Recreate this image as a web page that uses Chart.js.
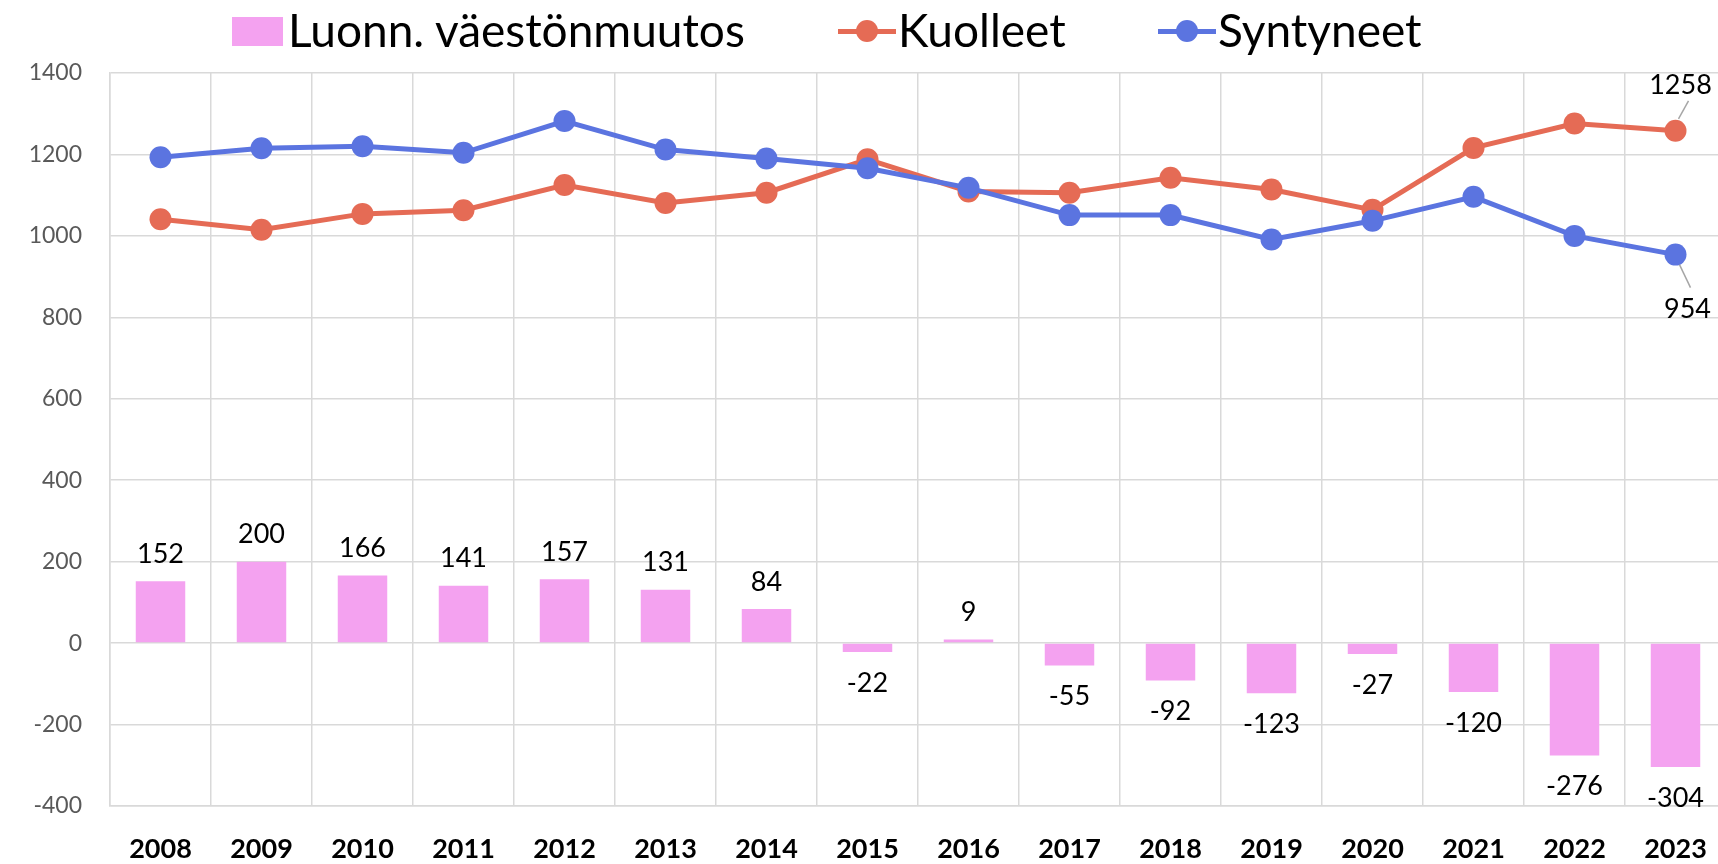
<!DOCTYPE html>
<html>
<head>
<meta charset="utf-8">
<script src="https://cdn.jsdelivr.net/npm/chart.js@4"></script>
<style>
    html, body { margin: 0; padding: 0; background: #fff; overflow: hidden; }
    .wrap { position: relative; width: 1737px; height: 864px; }
    .legend { position: absolute; top: 0; left: 0; width: 1718px; height: 62px; font-family: Lato, sans-serif; font-size: 46px; color: #000; }
    .item { position: absolute; top: 3px; line-height: 54px; white-space: nowrap; }
    .sq { position: absolute; left: 232px; top: 17px; width: 51px; height: 29px; background: #F4A2F0; }
    .ln { position: absolute; top: 29px; width: 58px; height: 5px; }
    .dot { position: absolute; top: 20px; width: 22px; height: 22px; border-radius: 50%; }
</style>
</head>
<body>
<div class="wrap">
    <canvas id="chart" width="1737" height="864"></canvas>
    <div class="legend">
        <div class="sq"></div>
        <div class="item" style="left:288px">Luonn. väestönmuutos</div>
        <div class="ln" style="left:838px;background:#E56B55"></div>
        <div class="dot" style="left:856px;background:#E56B55"></div>
        <div class="item" style="left:898px">Kuolleet</div>
        <div class="ln" style="left:1158px;background:#5B74E0"></div>
        <div class="dot" style="left:1176px;background:#5B74E0"></div>
        <div class="item" style="left:1218px">Syntyneet</div>
    </div>
</div>
<script>
const years = ['2008', '2009', '2010', '2011', '2012', '2013', '2014', '2015', '2016', '2017', '2018', '2019', '2020', '2021', '2022', '2023'];
const muutos = [152, 200, 166, 141, 157, 131, 84, -22, 9, -55, -92, -123, -27, -120, -276, -304];
const kuolleet = [1041, 1015, 1054, 1063, 1125, 1081, 1106, 1188, 1109, 1106, 1143, 1114, 1064, 1216, 1276, 1258];
const syntyneet = [1193, 1215, 1220, 1204, 1282, 1212, 1190, 1166, 1118, 1051, 1051, 991, 1037, 1096, 1000, 954];

const pink = '#F4A2F0';
const red = '#E56B55';
const blue = '#5B74E0';
const gridColor = '#d9d9d9';

// labels for bars and for the last points of the lines
const labelPlugin = {
    id: 'labels',
    afterDatasetsDraw(chart) {
        const ctx = chart.ctx;
        ctx.save();
        ctx.font = '27px Lato, sans-serif';
        ctx.fillStyle = '#000';
        ctx.textAlign = 'center';
        ctx.textBaseline = 'middle';
        const bars = chart.getDatasetMeta(0).data;
        bars.forEach((b, i) => {
            const v = muutos[i];
            const y = v >= 0 ? b.y - 27 : b.y + 31;
            ctx.fillText(String(v), b.x, y);
        });

        ctx.strokeStyle = '#a6a6a6';
        ctx.lineWidth = 1.5;
        const last = years.length - 1;
        const pk = chart.getDatasetMeta(1).data[last];
        ctx.beginPath();
        ctx.moveTo(pk.x + 3, pk.y - 12);
        ctx.lineTo(pk.x + 13, pk.y - 30);
        ctx.stroke();
        ctx.fillText(String(kuolleet[last]), pk.x + 5, pk.y - 46);

        const ps = chart.getDatasetMeta(2).data[last];
        ctx.beginPath();
        ctx.moveTo(ps.x + 4, ps.y + 10);
        ctx.lineTo(ps.x + 15, ps.y + 33);
        ctx.stroke();
        ctx.fillText(String(syntyneet[last]), ps.x + 12, ps.y + 55);
        ctx.restore();
    }
};

new Chart(document.getElementById('chart'), {
    type: 'bar',
    data: {
        labels: years,
        datasets: [
            {
                label: 'Luonn. väestönmuutos',
                data: muutos,
                backgroundColor: pink,
                barPercentage: 0.49,
                categoryPercentage: 1,
                order: 3
            },
            {
                type: 'line',
                label: 'Kuolleet',
                data: kuolleet,
                borderColor: red,
                backgroundColor: red,
                borderWidth: 5,
                pointRadius: 11,
                pointBorderWidth: 0,
                order: 2
            },
            {
                type: 'line',
                label: 'Syntyneet',
                data: syntyneet,
                borderColor: blue,
                backgroundColor: blue,
                borderWidth: 5,
                pointRadius: 11,
                pointBorderWidth: 0,
                order: 1
            }
        ]
    },
    options: {
        responsive: false,
        animation: false,
        layout: { padding: { top: 73, right: 1, left: 0, bottom: 0 } },
        plugins: { legend: { display: false }, tooltip: { enabled: false } },
        scales: {
            x: {
                offset: true,
                grid: { color: gridColor, lineWidth: 1.5, offset: true, drawTicks: false },
                border: { color: gridColor, width: 1.5 },
                ticks: { color: '#000', padding: 27, font: { family: 'Lato, sans-serif', size: 27, weight: 'bold' } },
                afterFit: s => { s.height = 58; }
            },
            y: {
                min: -400,
                max: 1400,
                grid: { color: gridColor, lineWidth: 1.5, drawTicks: false },
                border: { color: gridColor, width: 1.5 },
                ticks: {
                    stepSize: 200,
                    color: '#595959',
                    padding: 28,
                    font: { family: 'Lato, sans-serif', size: 23 },
                    callback: v => String(v)
                },
                afterFit: s => { s.width = 110; }
            }
        }
    },
    plugins: [labelPlugin]
});
</script>
</body>
</html>
